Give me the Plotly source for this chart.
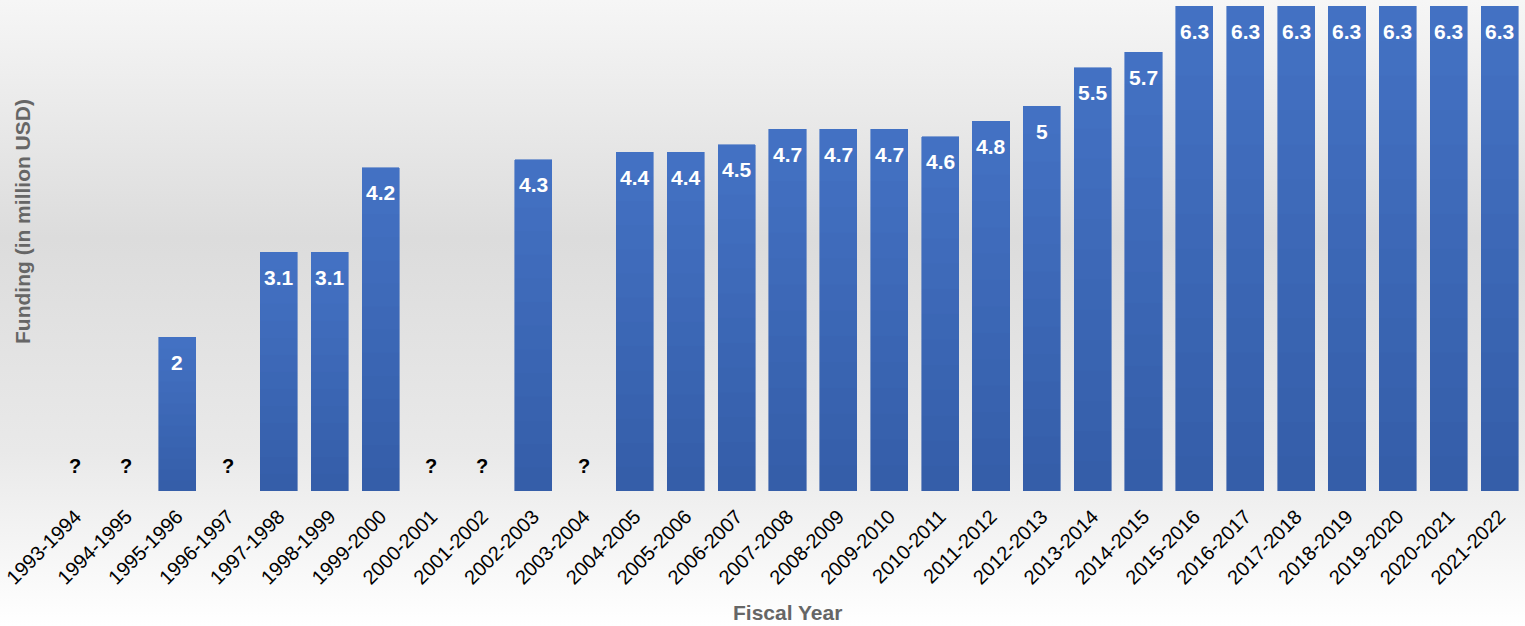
import base64
import plotly.graph_objects as go

fiscal_years = ["1993-1994", "1994-1995", "1995-1996", "1996-1997", "1997-1998", "1998-1999",
                "1999-2000", "2000-2001", "2001-2002", "2002-2003", "2003-2004", "2004-2005",
                "2005-2006", "2006-2007", "2007-2008", "2008-2009", "2009-2010", "2010-2011",
                "2011-2012", "2012-2013", "2013-2014", "2014-2015", "2015-2016", "2016-2017",
                "2017-2018", "2018-2019", "2019-2020", "2020-2021", "2021-2022"]
funding = [None, None, 2, None, 3.1, 3.1, 4.2, None, None, 4.3, None, 4.4, 4.4, 4.5, 4.7,
           4.7, 4.7, 4.6, 4.8, 5, 5.5, 5.7, 6.3, 6.3, 6.3, 6.3, 6.3, 6.3, 6.3]

N_SEG = 14
dark = (52, 93, 168)
light = (68, 114, 196)

W, H = 1525, 626
ml, mr, mt, mb = 50, 0, 6, 135
pw, ph = W - ml - mr, H - mt - mb

fig = go.Figure()
for k in range(N_SEG):
    t = (k + 0.5) / N_SEG
    c = tuple(round(dark[i] + (light[i] - dark[i]) * t) for i in range(3))
    fig.add_trace(go.Bar(
        x=fiscal_years,
        y=[(v / N_SEG if v is not None else None) for v in funding],
        marker=dict(color="rgb(%d,%d,%d)" % c, line=dict(width=0.6, color="rgb(%d,%d,%d)" % c)),
        showlegend=False, hoverinfo="skip"))

FONT = "Liberation Sans, Arial"
annotations = []
for cat, v in zip(fiscal_years, funding):
    if v is None:
        annotations.append(dict(x=cat, y=0, text="<b>?</b>", showarrow=False, xref="x", yref="y",
                                yanchor="middle", yshift=25,
                                font=dict(family=FONT, size=20, color="black")))
    else:
        annotations.append(dict(x=cat, y=v, text="<b>%g</b>" % v, showarrow=False, xref="x", yref="y",
                                yanchor="middle", yshift=-25,
                                font=dict(family=FONT, size=21, color="white")))

annotations.append(dict(text="<b>Fiscal Year</b>", xref="paper", yref="paper",
                        x=0.5, y=(491 - 612) / ph, xanchor="center", yanchor="middle",
                        showarrow=False, font=dict(family=FONT, size=21, color="#666666")))
annotations.append(dict(text="<b>Funding (in million USD)</b>", xref="paper", yref="paper",
                        x=(22 - ml) / pw, y=(491 - 222) / ph, xanchor="center", yanchor="middle",
                        textangle=-90, showarrow=False,
                        font=dict(family=FONT, size=21, color="#666666")))

svg = ('<svg xmlns="http://www.w3.org/2000/svg" width="100" height="100" preserveAspectRatio="none">'
       '<defs><linearGradient id="g" x1="0" y1="0" x2="0" y2="1">'
       '<stop offset="0" stop-color="#f6f6f6"/>'
       '<stop offset="0.38" stop-color="#dcdcdc"/>'
       '<stop offset="0.72" stop-color="#e9e9e9"/>'
       '<stop offset="1" stop-color="#ffffff"/>'
       '</linearGradient></defs><rect width="100" height="100" fill="url(#g)"/></svg>')
src = "data:image/svg+xml;base64," + base64.b64encode(svg.encode()).decode()

fig.update_layout(
    width=W, height=H,
    margin=dict(l=ml, r=mr, t=mt, b=mb),
    barmode="stack", bargap=0.27,
    paper_bgcolor="white", plot_bgcolor="rgba(0,0,0,0)",
    font=dict(family=FONT, color="black"),
    annotations=annotations,
    images=[dict(source=src, xref="paper", yref="paper",
                 x=-ml / pw, y=1 + mt / ph, sizex=W / pw, sizey=H / ph,
                 xanchor="left", yanchor="top", sizing="stretch", layer="below")],
    xaxis=dict(tickangle=-45, tickfont=dict(family=FONT, size=20, color="black"), showgrid=False,
               showline=False, ticks="", zeroline=False, ticklabelstandoff=9),
    yaxis=dict(range=[0, 6.3], showticklabels=False, showgrid=False, zeroline=False, showline=False),
)

fig.write_html("out.html")
